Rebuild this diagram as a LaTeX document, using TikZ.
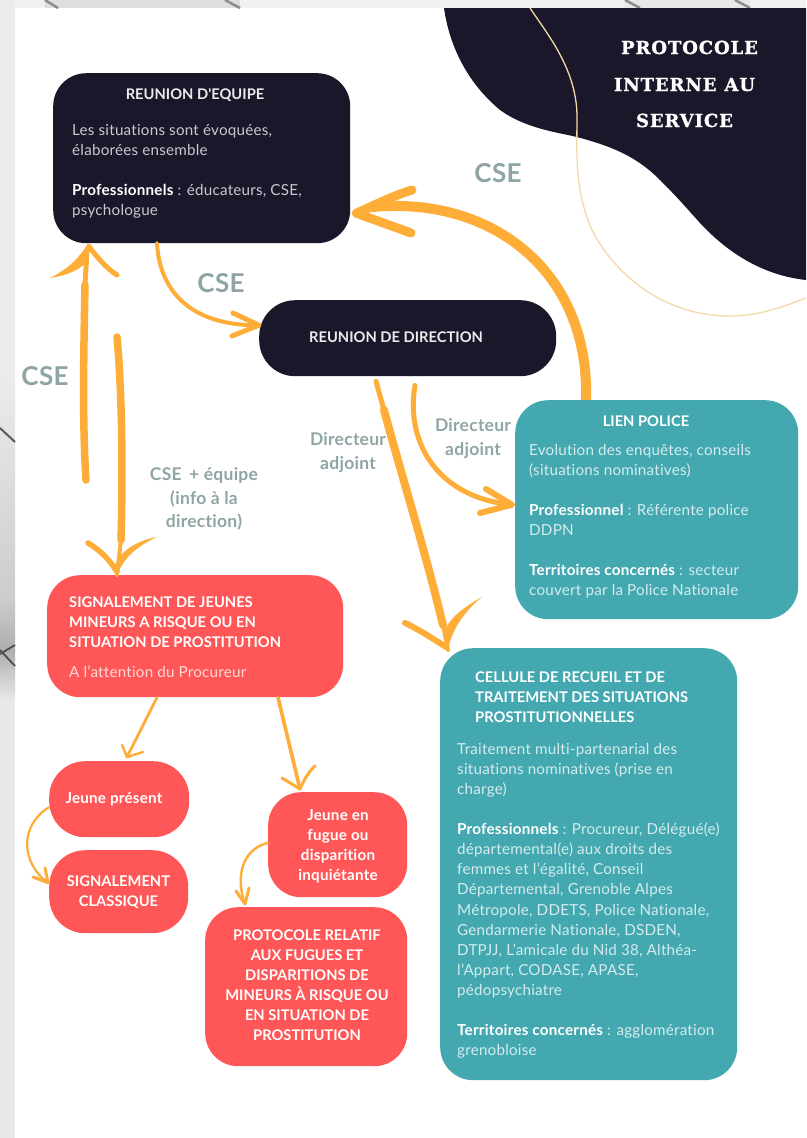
\documentclass[tikz,border=0pt]{standalone}
\usepackage{fontspec}
\setmainfont[LetterSpace=1.5,Ligatures=NoCommon]{Lato}
\newfontfamily\capfam[Ligatures=NoCommon]{Lato}
\newfontfamily\titlef[LetterSpace=5,FakeBold=1.2]{DejaVu Serif}
\usetikzlibrary{calc}
\definecolor{ink}{HTML}{1A172B}
\definecolor{teal}{HTML}{43A8B0}
\definecolor{coral}{HTML}{FF5757}
\definecolor{amber}{HTML}{FDAD38}
\definecolor{sand}{HTML}{F3D9A8}
\definecolor{sage}{HTML}{8FA5A5}
\definecolor{softink}{HTML}{C9C8CE}
\definecolor{softteal}{HTML}{D5ECEE}
\definecolor{softcoral}{HTML}{FFDADA}
\newcommand{\bodyf}{\fontsize{15.2}{20.1}\selectfont}
\newcommand{\capf}{\capfam\bfseries\fontsize{14.7}{20.1}\selectfont}
\newcommand{\labf}{\bfseries\fontsize{17.5}{23.5}\selectfont}
\newcommand{\bigf}{\bfseries\fontsize{26}{30}\selectfont}
\tikzset{
 x=1pt,y=-1pt,
 card/.style={draw=none,inner sep=0pt,anchor=north west,rounded corners=33pt},
 para/.style={inner sep=0pt,anchor=north west,align=left,font=\bodyf},
 midpara/.style={inner sep=0pt,anchor=north,align=center,font=\capf},
 head/.style={inner sep=0pt,anchor=base,font=\capf},
 lab/.style={inner sep=0pt,anchor=north,align=center,font=\labf,text=sage},
 biglab/.style={inner sep=0pt,anchor=base,font=\bigf,text=sage},
 titlet/.style={inner sep=0pt,anchor=base,text=white,font=\titlef\bfseries\fontsize{18}{20}\selectfont},
 wire/.style={draw=amber,line cap=round,line join=round},
 tip/.style={fill=amber,draw=none},
}
\begin{document}
\begin{tikzpicture}
\useasboundingbox (0,0) rectangle (806,1138);
% paper and textured surround
\fill[white] (0,0) rectangle (806,1138);
\fill[black!6] (0,0) rectangle (806,8);
\fill[black!13] (45,0) rectangle (240,8);
\fill[black!9] (625,0) rectangle (750,8);
\fill[black!8] (0,0) rectangle (15,380);
\shade[top color=black!8,bottom color=black!20] (0,380) rectangle (15,600);
\shade[top color=black!20,bottom color=black!32] (0,600) rectangle (15,650);
\shade[top color=black!32,bottom color=black!9] (0,650) rectangle (15,700);
\fill[black!9] (0,700) rectangle (15,1138);
\draw[black!65,line width=2pt] (0,428) -- (15,442);
\draw[black!70,line width=1.8pt] (0,654) -- (15,645);
\draw[black!70,line width=1.8pt] (0,650) -- (15,666);
\foreach \xa/\xb in {45/58,225/240,625/640,735/750}
  \draw[black!45,line width=2.5pt] (\xa,0) -- (\xb,8);
% dark blob
\fill[ink] (444,8) .. controls (450,50) and (470,85) .. (500,110)
  .. controls (525,128) and (555,132) .. (577,137)
  .. controls (610,146) and (635,155) .. (660,180)
  .. controls (680,200) and (690,212) .. (700,223)
  .. controls (725,250) and (760,275) .. (806,280)
  -- (806,8) -- cycle;
% thin decorative line
\draw[sand,line width=1.3pt] (530,8) .. controls (548,35) and (577,70) .. (577,117)
  .. controls (577,150) and (574,190) .. (592,230)
  .. controls (612,270) and (660,316) .. (730,316)
  .. controls (760,316) and (785,306) .. (806,298);
% cards
\node[card,fill=ink,minimum width=297pt,minimum height=170pt] (equipe) at (53,73) {};
\node[card,fill=ink,minimum width=297pt,minimum height=76pt,rounded corners=36pt] (direction) at (259,300) {};
\node[card,fill=teal,minimum width=283pt,minimum height=219pt] (police) at (515,400) {};
\node[card,fill=teal,minimum width=297pt,minimum height=432pt] (cellule) at (440,648) {};
\node[card,fill=coral,minimum width=296pt,minimum height=122pt] (signal) at (47,575) {};
\node[card,fill=coral,minimum width=140pt,minimum height=76pt,rounded corners=36pt] (present) at (49,761) {};
\node[card,fill=coral,minimum width=139pt,minimum height=83pt,rounded corners=36pt] (classique) at (49,850) {};
\node[card,fill=coral,minimum width=139pt,minimum height=105pt] (fugue) at (268,792) {};
\node[card,fill=coral,minimum width=202pt,minimum height=159pt] (fprotocole) at (205,907) {};
% title
\node[titlet] (t1) at (689.5,54) {PROTOCOLE};
\node[titlet] (t2) at (684.5,91) {INTERNE\hspace{8pt}AU};
\node[titlet] (t3) at (684.5,127) {SERVICE};
% card texts
\node[head,text=white!92!black] (eqh) at (195,99) {REUNION D'EQUIPE};
\node[para,text=softink] (eqb) at (72,121) {\strut Les situations sont évoquées,\\élaborées ensemble\\[20.1pt]\textcolor{white}{\bfseries Professionnels} : éducateurs, CSE,\\psychologue};
\node[head,text=white!92!black] (dih) at (396,342) {REUNION DE DIRECTION};
\node[head,text=white] (poh) at (646,426) {LIEN POLICE};
\node[para,text=softteal] (pob) at (529,441) {\strut Evolution des enquêtes, conseils\\(situations nominatives)\\[20.1pt]\textcolor{white}{\bfseries Professionnel} : Référente police\\DDPN\\[20.1pt]\textcolor{white}{\bfseries Territoires concernés} : secteur\\couvert par la Police Nationale};
\node[para,text=white,font=\capf] (ceh) at (475,668) {\strut CELLULE DE RECUEIL ET DE\\TRAITEMENT DES SITUATIONS\\PROSTITUTIONNELLES};
\node[para,text=softteal] (ceb) at (457,740) {\strut Traitement multi-partenarial des\\situations nominatives (prise en\\charge)\\[20.1pt]\textcolor{white}{\bfseries Professionnels} : Procureur, Délégué(e)\\départemental(e) aux droits des\\femmes et l'égalité, Conseil\\Départemental, Grenoble Alpes\\Métropole, DDETS, Police Nationale,\\Gendarmerie Nationale, DSDEN,\\DTPJJ, L'amicale du Nid 38, Althéa-\\l'Appart, CODASE, APASE,\\pédopsychiatre\\[20.1pt]\textcolor{white}{\bfseries Territoires concernés} : agglomération\\grenobloise};
\node[para,text=white,font=\capf] (sih) at (69,593) {\strut SIGNALEMENT DE JEUNES\\MINEURS A RISQUE OU EN\\SITUATION DE PROSTITUTION};
\node[para,text=softcoral] (sib) at (69,663) {\strut A l'attention du Procureur};
\node[head,text=white,font=\bodyf\bfseries] (prt) at (114,803) {Jeune présent};
\node[midpara,text=white] (clt) at (118.5,872) {\strut SIGNALEMENT\\CLASSIQUE};
\node[midpara,text=white,font=\bodyf\bfseries] (fut) at (338,806) {\strut Jeune en\\fugue ou\\disparition\\inquiétante};
\node[midpara,text=white] (fpt) at (307,926) {\strut PROTOCOLE RELATIF\\AUX FUGUES ET\\DISPARITIONS DE\\MINEURS À RISQUE OU\\EN SITUATION DE\\PROSTITUTION};
% connector labels
\node[biglab] (l1) at (45,385) {CSE};
\node[biglab] (l2) at (221,292) {CSE};
\node[biglab] (l3) at (498,182) {CSE};
\node[lab] (l4) at (348,429) {\strut Directeur\\adjoint};
\node[lab] (l5) at (473,415) {\strut Directeur\\adjoint};
\node[lab] (l6) at (204,464) {\strut CSE\, + équipe\\(info à la\\direction)};
% free ends of the two parallel arrows
\coordinate (aStart) at (86,480);
\coordinate (bStart) at (117,337);
% A: signalement -> equipe
\coordinate (aTip) at ($(equipe.south west)+(35,0)$);
\draw[wire,line width=7.5pt] (aStart) .. controls (82,420) and (84,340) .. (85,285);
\draw[wire,line width=5pt] (85,285) -- ($(aTip)+(-1,8)$);
\fill[tip] (aTip) .. controls (78,260) and (66,270) .. (50,278) .. controls (70,275) and (82,268) .. (86,262) -- cycle;
\draw[wire,line width=5pt] ($(aTip)+(1,3)$) .. controls (96,256) and (106,268) .. (117,275);
% B: equipe side -> signalement
\coordinate (bTip) at ($(signal.north west)+(70,0)$);
\draw[wire,line width=7.5pt] (bStart) .. controls (122,390) and (123,470) .. (121,540);
\draw[wire,line width=4pt] (121,540) -- (bTip);
\draw[wire,line width=5.5pt] (88,543) .. controls (100,550) and (110,560) .. ($(bTip)+(0,-3)$);
\fill[tip] (bTip) .. controls (125,555) and (140,545) .. (157,537) .. controls (135,541) and (120,552) .. (115,565) -- cycle;
% C: equipe -> direction
\coordinate (cTip) at ($(direction.west)+(0,-13)$);
\draw[wire,line width=4pt] ($(equipe.south west)+(104,0)$) .. controls (160,295) and (195,326) .. (cTip);
\draw[wire,line width=5pt] (233,313) -- (cTip) -- (232,336);
% D: police -> equipe
\coordinate (dTip) at ($(equipe.east)+(6,55)$);
\draw[wire,line width=10pt,line cap=butt] ($(police.north west)+(71,0)$) .. controls (590,270) and (490,195) .. ($(dTip)+(14,-6)$);
\draw[wire,line width=9pt] (412,190) .. controls (390,197) and (375,205) .. (dTip) .. controls (375,220) and (392,226) .. (411,233);
% E: direction -> cellule
\coordinate (eTip) at ($(cellule.north west)+(8,2)$);
\draw[wire,line width=5pt] ($(direction.south west)+(117,5)$) -- (384,410);
\draw[wire,line width=8pt] (384,410) .. controls (400,470) and (425,550) .. (443,625);
\draw[wire,line width=4pt] (443,625) -- (eTip);
\draw[wire,line width=6pt] (405,623) .. controls (420,630) and (435,640) .. ($(eTip)+(-2,-3)$);
\fill[tip] (eTip) .. controls (452,628) and (466,610) .. (482,597) .. controls (462,608) and (447,620) .. (443,635) -- cycle;
% F: direction -> police
\coordinate (fTip) at ($(police.west)+(-3,-5)$);
\draw[wire,line width=5pt] ($(direction.south west)+(156,9)$) .. controls (405,445) and (440,498) .. (fTip);
\draw[wire,line width=6pt] (486,489) -- (fTip) -- (480,513);
% G: signal -> present
\coordinate (gTip) at ($(present.north west)+(78,-4)$);
\draw[wire,line width=2.8pt] ($(signal.south west)+(110,0)$) -- (gTip);
\draw[wire,line width=2.4pt] (122,745) -- (gTip) -- (143,752);
% H: signal -> fugue
\coordinate (hTip) at ($(fugue.north west)+(32,-3)$);
\draw[wire,line width=3.6pt] ($(signal.south west)+(231,0)$) -- (hTip);
\draw[wire,line width=3pt] (282,778) -- (hTip) .. controls (303,782) and (308,772) .. (315,766);
% I: present -> classique
\coordinate (iTip) at ($(classique.west)+(-1,-9)$);
\draw[wire,line width=2.2pt] ($(present.west)+(0,8)$) .. controls (20,825) and (20,862) .. (iTip);
\draw[wire,line width=3pt] (33,877) -- (iTip) -- (45,868);
% J: fugue -> protocole
\coordinate (jTip) at ($(fprotocole.north west)+(40,-3)$);
\draw[wire,line width=2.4pt] ($(fugue.west)+(0,-2)$) .. controls (240,850) and (236,880) .. (jTip);
\draw[wire,line width=3pt] (236,891) -- (jTip) -- (249,888);
\end{tikzpicture}
\end{document}
